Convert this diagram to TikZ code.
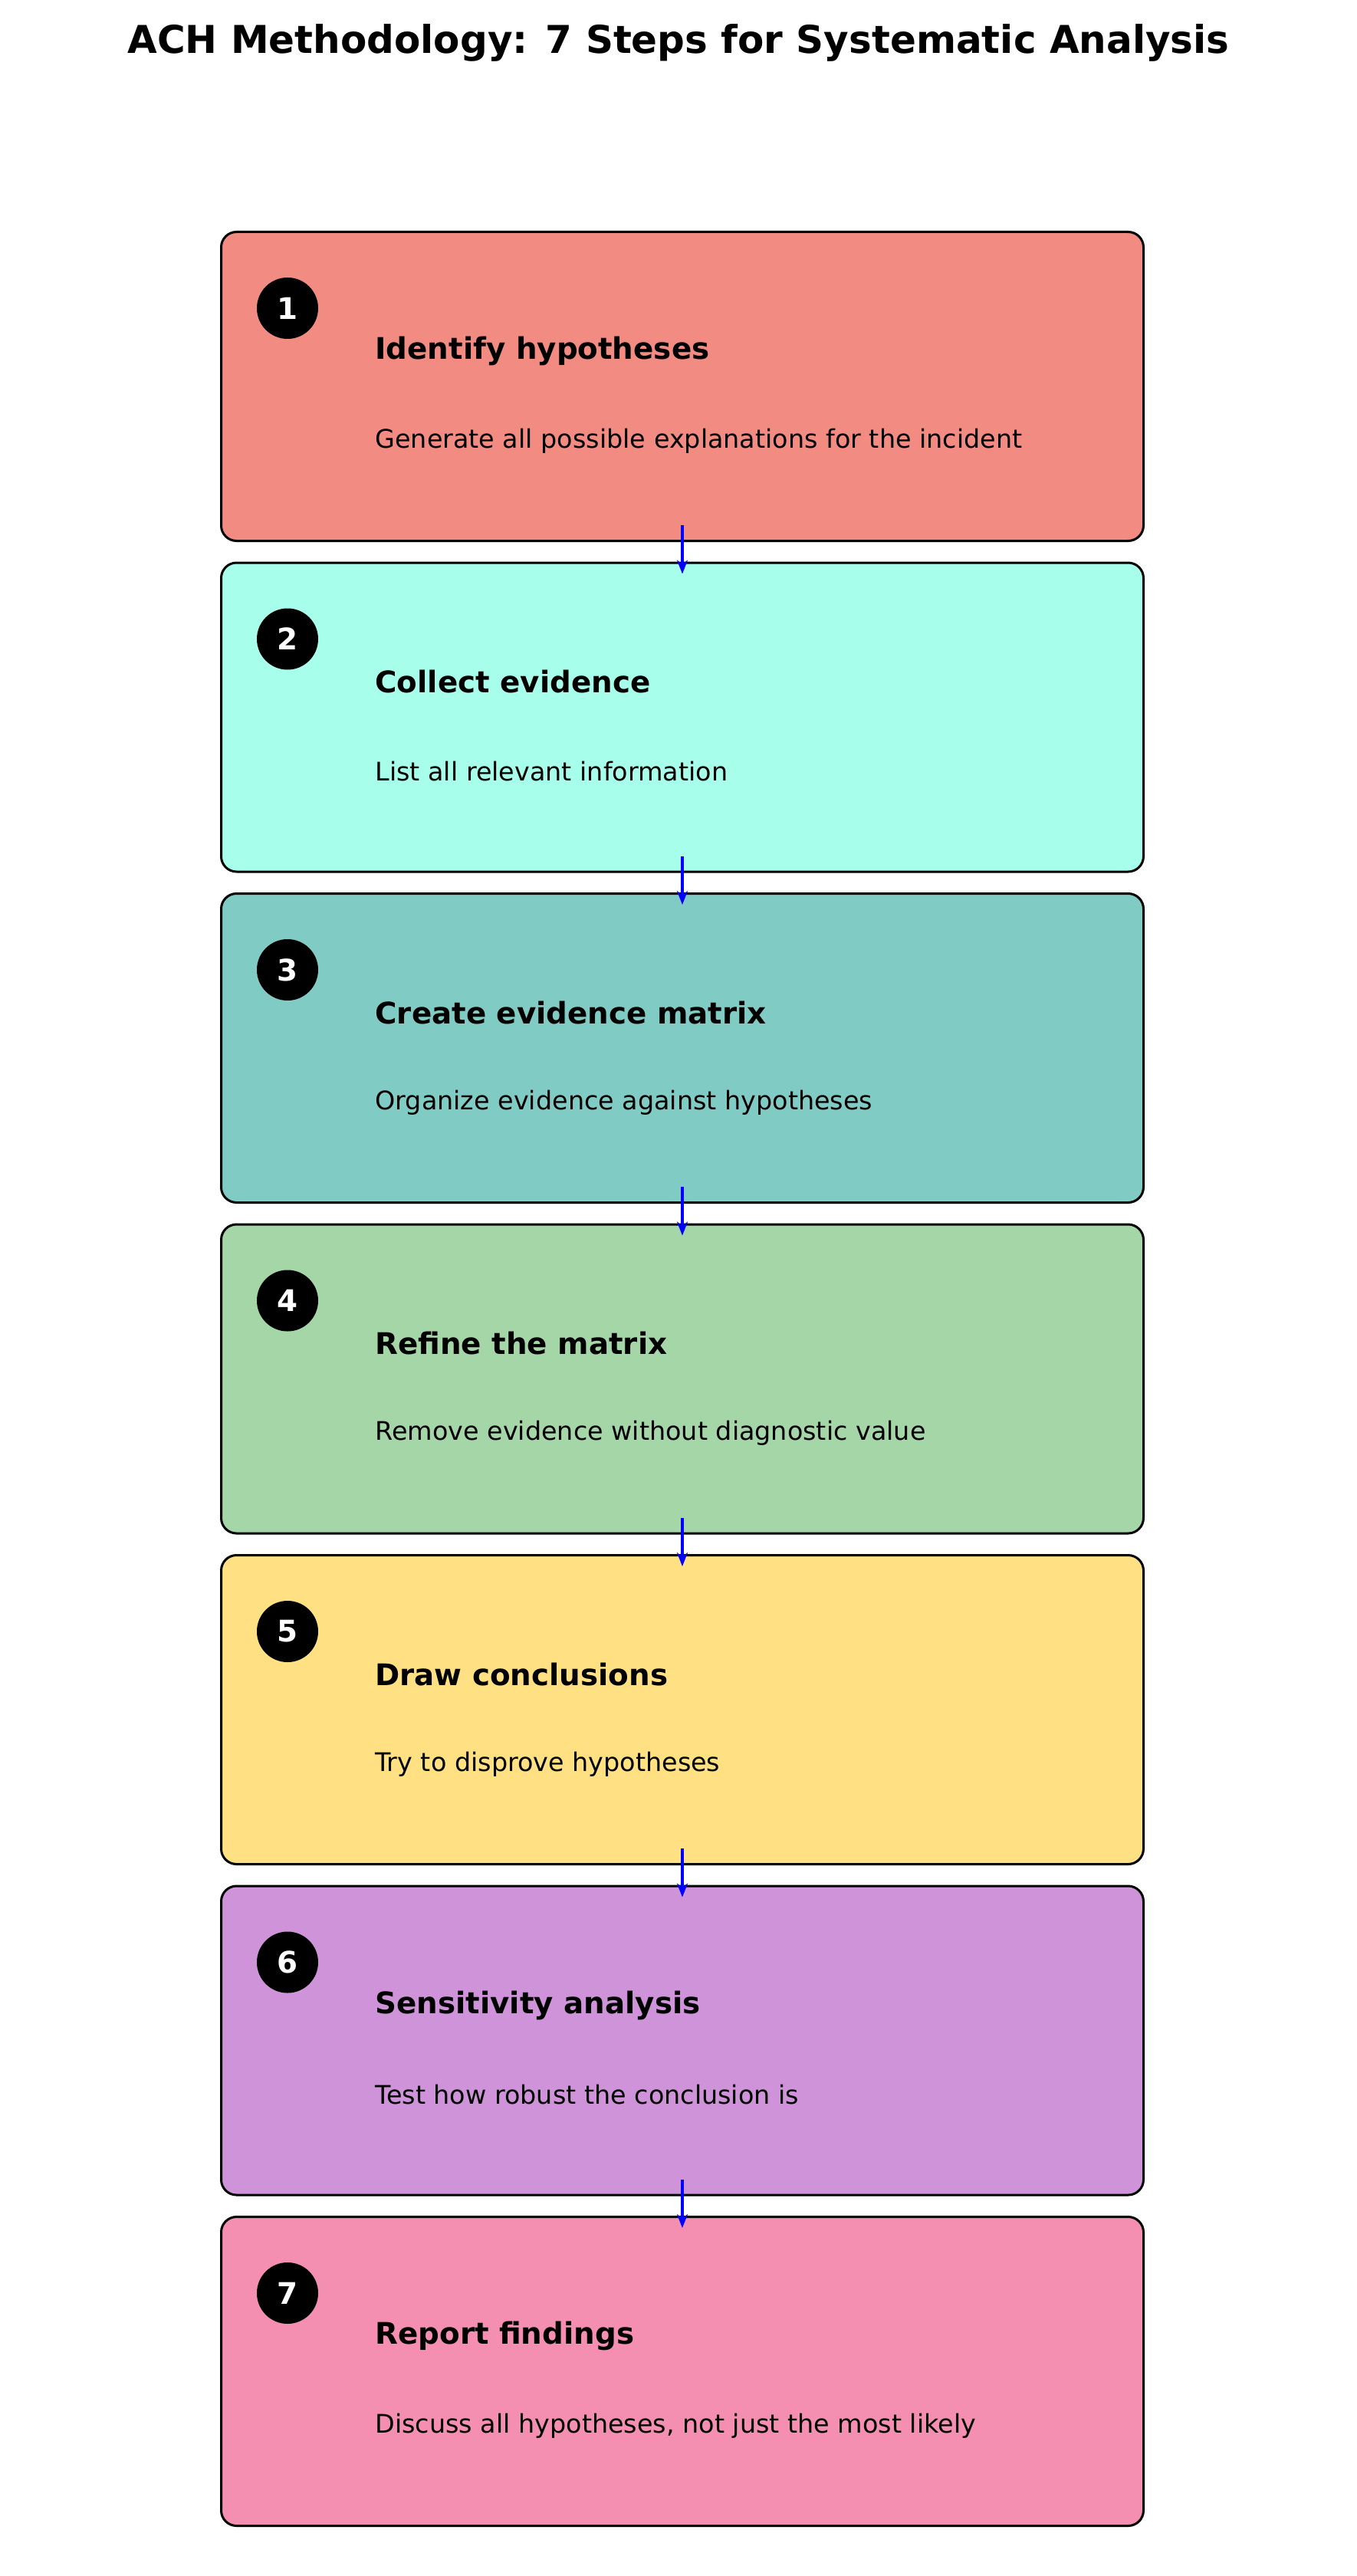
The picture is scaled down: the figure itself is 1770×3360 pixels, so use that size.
\documentclass[tikz,border=0pt]{standalone}
\usepackage{fontspec}
\setmainfont{DejaVu Sans}
\usetikzlibrary{arrows.meta}
\definecolor{c1}{HTML}{F28B82}
\definecolor{c2}{HTML}{A7FFEB}
\definecolor{c3}{HTML}{80CBC4}
\definecolor{c4}{HTML}{A5D6A7}
\definecolor{c5}{HTML}{FFE082}
\definecolor{c6}{HTML}{CE93D8}
\definecolor{c7}{HTML}{F48FB1}
\tikzset{
 stepbox/.style={draw=black,line width=1.5pt,rounded corners=10pt,minimum width=601.5pt,minimum height=201.5pt,inner sep=0pt},
 numcirc/.style={circle,fill=black,minimum size=40pt,inner sep=0pt,text=white,font=\fontsize{19.4}{22}\selectfont\bfseries},
 ttl/.style={anchor=west,inner sep=0pt,font=\fontsize{19.4}{22}\selectfont\bfseries},
 dsc/.style={anchor=west,inner sep=0pt,font=\fontsize{16.7}{19}\selectfont},
 flow/.style={draw=blue,line width=2pt,-{Stealth[length=9pt,width=7pt]}}
}
\begin{document}
\begin{tikzpicture}[x=0.5pt,y=-0.5pt]
\useasboundingbox (0,0) rectangle (1770,3360);
\node[font=\fontsize{25}{30}\selectfont\bfseries] (title) at (885,56) {ACH Methodology: 7 Steps for Systematic Analysis};
\foreach \i/\c/\t/\d in {1/c1/Identify hypotheses/Generate all possible explanations for the incident,
 2/c2/Collect evidence/List all relevant information,
 3/c3/Create evidence matrix/Organize evidence against hypotheses,
 4/c4/Refine the matrix/Remove evidence without diagnostic value,
 5/c5/Draw conclusions/Try to disprove hypotheses,
 6/c6/Sensitivity analysis/Test how robust the conclusion is,
 7/c7/Report findings/{Discuss all hypotheses, not just the most likely}}{
 \pgfmathsetmacro{\ytop}{301+(\i-1)*431.5}
 \node[stepbox,fill=\c,anchor=north west] (b\i) at (287,\ytop) {};
 \node[numcirc] (n\i) at (375,\ytop+101) {\i};
 \node[ttl] (t\i) at (489,\ytop+157) {\t};
 \node[dsc] (d\i) at (489,\ytop+274) {\d};
}
\foreach \i [evaluate=\i as \j using int(\i+1)] in {1,...,6}{
 \draw[flow] ([yshift=11pt]b\i.south) -- ([yshift=-8pt]b\j.north);
}
\end{tikzpicture}
\end{document}
